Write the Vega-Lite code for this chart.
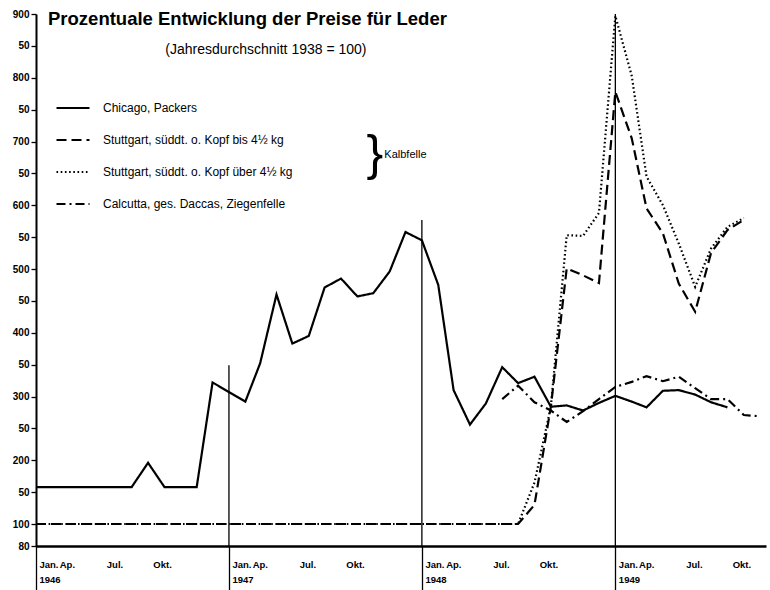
{
  "$schema": "https://vega.github.io/schema/vega-lite/v6.json",
  "autosize": {"type": "none"},
  "width": 730,
  "height": 532,
  "padding": {"left": 36, "top": 14, "right": 4, "bottom": 44},
  "background": "white",
  "config": {"view": {"stroke": null}, "font": "Liberation Sans"},
  "title": {
    "text": "Prozentuale Entwicklung der Preise für Leder",
    "anchor": "start", "frame": "group", "offset": 0, "dx": 12, "dy": 34,
    "baseline": "alphabetic", "fontSize": 18.5, "fontWeight": "bold",
    "font": "Liberation Sans", "color": "black"
  },
  "datasets": {
    "prices": [
      {"date": "1946-01-01", "series": "Chicago, Packers", "value": 158},
      {"date": "1946-02-01", "series": "Chicago, Packers", "value": 158},
      {"date": "1946-03-01", "series": "Chicago, Packers", "value": 158},
      {"date": "1946-04-01", "series": "Chicago, Packers", "value": 158},
      {"date": "1946-05-01", "series": "Chicago, Packers", "value": 158},
      {"date": "1946-06-01", "series": "Chicago, Packers", "value": 158},
      {"date": "1946-07-01", "series": "Chicago, Packers", "value": 158},
      {"date": "1946-08-01", "series": "Chicago, Packers", "value": 196},
      {"date": "1946-09-01", "series": "Chicago, Packers", "value": 158},
      {"date": "1946-10-01", "series": "Chicago, Packers", "value": 158},
      {"date": "1946-11-01", "series": "Chicago, Packers", "value": 158},
      {"date": "1946-12-01", "series": "Chicago, Packers", "value": 322},
      {"date": "1947-01-01", "series": "Chicago, Packers", "value": 307},
      {"date": "1947-02-01", "series": "Chicago, Packers", "value": 292},
      {"date": "1947-03-01", "series": "Chicago, Packers", "value": 352},
      {"date": "1947-04-01", "series": "Chicago, Packers", "value": 460},
      {"date": "1947-05-01", "series": "Chicago, Packers", "value": 383},
      {"date": "1947-06-01", "series": "Chicago, Packers", "value": 395},
      {"date": "1947-07-01", "series": "Chicago, Packers", "value": 471},
      {"date": "1947-08-01", "series": "Chicago, Packers", "value": 485},
      {"date": "1947-09-01", "series": "Chicago, Packers", "value": 457},
      {"date": "1947-10-01", "series": "Chicago, Packers", "value": 462},
      {"date": "1947-11-01", "series": "Chicago, Packers", "value": 496},
      {"date": "1947-12-01", "series": "Chicago, Packers", "value": 558},
      {"date": "1948-01-01", "series": "Chicago, Packers", "value": 545},
      {"date": "1948-02-01", "series": "Chicago, Packers", "value": 475},
      {"date": "1948-03-01", "series": "Chicago, Packers", "value": 310},
      {"date": "1948-04-01", "series": "Chicago, Packers", "value": 256},
      {"date": "1948-05-01", "series": "Chicago, Packers", "value": 289},
      {"date": "1948-06-01", "series": "Chicago, Packers", "value": 346},
      {"date": "1948-07-01", "series": "Chicago, Packers", "value": 321},
      {"date": "1948-08-01", "series": "Chicago, Packers", "value": 331},
      {"date": "1948-09-01", "series": "Chicago, Packers", "value": 284},
      {"date": "1948-10-01", "series": "Chicago, Packers", "value": 286},
      {"date": "1948-11-01", "series": "Chicago, Packers", "value": 278},
      {"date": "1948-12-01", "series": "Chicago, Packers", "value": 290},
      {"date": "1949-01-01", "series": "Chicago, Packers", "value": 301},
      {"date": "1949-02-01", "series": "Chicago, Packers", "value": 292},
      {"date": "1949-03-01", "series": "Chicago, Packers", "value": 283},
      {"date": "1949-04-01", "series": "Chicago, Packers", "value": 309},
      {"date": "1949-05-01", "series": "Chicago, Packers", "value": 310},
      {"date": "1949-06-01", "series": "Chicago, Packers", "value": 303},
      {"date": "1949-07-01", "series": "Chicago, Packers", "value": 291},
      {"date": "1949-08-01", "series": "Chicago, Packers", "value": 283},

      {"date": "1946-01-01", "series": "Stuttgart, süddt. o. Kopf bis 4½ kg", "value": 100},
      {"date": "1946-02-01", "series": "Stuttgart, süddt. o. Kopf bis 4½ kg", "value": 100},
      {"date": "1946-03-01", "series": "Stuttgart, süddt. o. Kopf bis 4½ kg", "value": 100},
      {"date": "1946-04-01", "series": "Stuttgart, süddt. o. Kopf bis 4½ kg", "value": 100},
      {"date": "1946-05-01", "series": "Stuttgart, süddt. o. Kopf bis 4½ kg", "value": 100},
      {"date": "1946-06-01", "series": "Stuttgart, süddt. o. Kopf bis 4½ kg", "value": 100},
      {"date": "1946-07-01", "series": "Stuttgart, süddt. o. Kopf bis 4½ kg", "value": 100},
      {"date": "1946-08-01", "series": "Stuttgart, süddt. o. Kopf bis 4½ kg", "value": 100},
      {"date": "1946-09-01", "series": "Stuttgart, süddt. o. Kopf bis 4½ kg", "value": 100},
      {"date": "1946-10-01", "series": "Stuttgart, süddt. o. Kopf bis 4½ kg", "value": 100},
      {"date": "1946-11-01", "series": "Stuttgart, süddt. o. Kopf bis 4½ kg", "value": 100},
      {"date": "1946-12-01", "series": "Stuttgart, süddt. o. Kopf bis 4½ kg", "value": 100},
      {"date": "1947-01-01", "series": "Stuttgart, süddt. o. Kopf bis 4½ kg", "value": 100},
      {"date": "1947-02-01", "series": "Stuttgart, süddt. o. Kopf bis 4½ kg", "value": 100},
      {"date": "1947-03-01", "series": "Stuttgart, süddt. o. Kopf bis 4½ kg", "value": 100},
      {"date": "1947-04-01", "series": "Stuttgart, süddt. o. Kopf bis 4½ kg", "value": 100},
      {"date": "1947-05-01", "series": "Stuttgart, süddt. o. Kopf bis 4½ kg", "value": 100},
      {"date": "1947-06-01", "series": "Stuttgart, süddt. o. Kopf bis 4½ kg", "value": 100},
      {"date": "1947-07-01", "series": "Stuttgart, süddt. o. Kopf bis 4½ kg", "value": 100},
      {"date": "1947-08-01", "series": "Stuttgart, süddt. o. Kopf bis 4½ kg", "value": 100},
      {"date": "1947-09-01", "series": "Stuttgart, süddt. o. Kopf bis 4½ kg", "value": 100},
      {"date": "1947-10-01", "series": "Stuttgart, süddt. o. Kopf bis 4½ kg", "value": 100},
      {"date": "1947-11-01", "series": "Stuttgart, süddt. o. Kopf bis 4½ kg", "value": 100},
      {"date": "1947-12-01", "series": "Stuttgart, süddt. o. Kopf bis 4½ kg", "value": 100},
      {"date": "1948-01-01", "series": "Stuttgart, süddt. o. Kopf bis 4½ kg", "value": 100},
      {"date": "1948-02-01", "series": "Stuttgart, süddt. o. Kopf bis 4½ kg", "value": 100},
      {"date": "1948-03-01", "series": "Stuttgart, süddt. o. Kopf bis 4½ kg", "value": 100},
      {"date": "1948-04-01", "series": "Stuttgart, süddt. o. Kopf bis 4½ kg", "value": 100},
      {"date": "1948-05-01", "series": "Stuttgart, süddt. o. Kopf bis 4½ kg", "value": 100},
      {"date": "1948-06-01", "series": "Stuttgart, süddt. o. Kopf bis 4½ kg", "value": 100},
      {"date": "1948-07-01", "series": "Stuttgart, süddt. o. Kopf bis 4½ kg", "value": 100},
      {"date": "1948-08-01", "series": "Stuttgart, süddt. o. Kopf bis 4½ kg", "value": 130},
      {"date": "1948-09-01", "series": "Stuttgart, süddt. o. Kopf bis 4½ kg", "value": 284},
      {"date": "1948-10-01", "series": "Stuttgart, süddt. o. Kopf bis 4½ kg", "value": 501},
      {"date": "1948-11-01", "series": "Stuttgart, süddt. o. Kopf bis 4½ kg", "value": 490},
      {"date": "1948-12-01", "series": "Stuttgart, süddt. o. Kopf bis 4½ kg", "value": 478},
      {"date": "1949-01-01", "series": "Stuttgart, süddt. o. Kopf bis 4½ kg", "value": 778},
      {"date": "1949-02-01", "series": "Stuttgart, süddt. o. Kopf bis 4½ kg", "value": 705},
      {"date": "1949-03-01", "series": "Stuttgart, süddt. o. Kopf bis 4½ kg", "value": 595},
      {"date": "1949-04-01", "series": "Stuttgart, süddt. o. Kopf bis 4½ kg", "value": 556},
      {"date": "1949-05-01", "series": "Stuttgart, süddt. o. Kopf bis 4½ kg", "value": 477},
      {"date": "1949-06-01", "series": "Stuttgart, süddt. o. Kopf bis 4½ kg", "value": 433},
      {"date": "1949-07-01", "series": "Stuttgart, süddt. o. Kopf bis 4½ kg", "value": 525},
      {"date": "1949-08-01", "series": "Stuttgart, süddt. o. Kopf bis 4½ kg", "value": 561},
      {"date": "1949-09-01", "series": "Stuttgart, süddt. o. Kopf bis 4½ kg", "value": 577},

      {"date": "1946-01-01", "series": "Stuttgart, süddt. o. Kopf über 4½ kg", "value": 100},
      {"date": "1946-02-01", "series": "Stuttgart, süddt. o. Kopf über 4½ kg", "value": 100},
      {"date": "1946-03-01", "series": "Stuttgart, süddt. o. Kopf über 4½ kg", "value": 100},
      {"date": "1946-04-01", "series": "Stuttgart, süddt. o. Kopf über 4½ kg", "value": 100},
      {"date": "1946-05-01", "series": "Stuttgart, süddt. o. Kopf über 4½ kg", "value": 100},
      {"date": "1946-06-01", "series": "Stuttgart, süddt. o. Kopf über 4½ kg", "value": 100},
      {"date": "1946-07-01", "series": "Stuttgart, süddt. o. Kopf über 4½ kg", "value": 100},
      {"date": "1946-08-01", "series": "Stuttgart, süddt. o. Kopf über 4½ kg", "value": 100},
      {"date": "1946-09-01", "series": "Stuttgart, süddt. o. Kopf über 4½ kg", "value": 100},
      {"date": "1946-10-01", "series": "Stuttgart, süddt. o. Kopf über 4½ kg", "value": 100},
      {"date": "1946-11-01", "series": "Stuttgart, süddt. o. Kopf über 4½ kg", "value": 100},
      {"date": "1946-12-01", "series": "Stuttgart, süddt. o. Kopf über 4½ kg", "value": 100},
      {"date": "1947-01-01", "series": "Stuttgart, süddt. o. Kopf über 4½ kg", "value": 100},
      {"date": "1947-02-01", "series": "Stuttgart, süddt. o. Kopf über 4½ kg", "value": 100},
      {"date": "1947-03-01", "series": "Stuttgart, süddt. o. Kopf über 4½ kg", "value": 100},
      {"date": "1947-04-01", "series": "Stuttgart, süddt. o. Kopf über 4½ kg", "value": 100},
      {"date": "1947-05-01", "series": "Stuttgart, süddt. o. Kopf über 4½ kg", "value": 100},
      {"date": "1947-06-01", "series": "Stuttgart, süddt. o. Kopf über 4½ kg", "value": 100},
      {"date": "1947-07-01", "series": "Stuttgart, süddt. o. Kopf über 4½ kg", "value": 100},
      {"date": "1947-08-01", "series": "Stuttgart, süddt. o. Kopf über 4½ kg", "value": 100},
      {"date": "1947-09-01", "series": "Stuttgart, süddt. o. Kopf über 4½ kg", "value": 100},
      {"date": "1947-10-01", "series": "Stuttgart, süddt. o. Kopf über 4½ kg", "value": 100},
      {"date": "1947-11-01", "series": "Stuttgart, süddt. o. Kopf über 4½ kg", "value": 100},
      {"date": "1947-12-01", "series": "Stuttgart, süddt. o. Kopf über 4½ kg", "value": 100},
      {"date": "1948-01-01", "series": "Stuttgart, süddt. o. Kopf über 4½ kg", "value": 100},
      {"date": "1948-02-01", "series": "Stuttgart, süddt. o. Kopf über 4½ kg", "value": 100},
      {"date": "1948-03-01", "series": "Stuttgart, süddt. o. Kopf über 4½ kg", "value": 100},
      {"date": "1948-04-01", "series": "Stuttgart, süddt. o. Kopf über 4½ kg", "value": 100},
      {"date": "1948-05-01", "series": "Stuttgart, süddt. o. Kopf über 4½ kg", "value": 100},
      {"date": "1948-06-01", "series": "Stuttgart, süddt. o. Kopf über 4½ kg", "value": 100},
      {"date": "1948-07-01", "series": "Stuttgart, süddt. o. Kopf über 4½ kg", "value": 100},
      {"date": "1948-08-01", "series": "Stuttgart, süddt. o. Kopf über 4½ kg", "value": 165},
      {"date": "1948-09-01", "series": "Stuttgart, süddt. o. Kopf über 4½ kg", "value": 284},
      {"date": "1948-10-01", "series": "Stuttgart, süddt. o. Kopf über 4½ kg", "value": 553},
      {"date": "1948-11-01", "series": "Stuttgart, süddt. o. Kopf über 4½ kg", "value": 552},
      {"date": "1948-12-01", "series": "Stuttgart, süddt. o. Kopf über 4½ kg", "value": 588},
      {"date": "1949-01-01", "series": "Stuttgart, süddt. o. Kopf über 4½ kg", "value": 897},
      {"date": "1949-02-01", "series": "Stuttgart, süddt. o. Kopf über 4½ kg", "value": 803},
      {"date": "1949-03-01", "series": "Stuttgart, süddt. o. Kopf über 4½ kg", "value": 645},
      {"date": "1949-04-01", "series": "Stuttgart, süddt. o. Kopf über 4½ kg", "value": 600},
      {"date": "1949-05-01", "series": "Stuttgart, süddt. o. Kopf über 4½ kg", "value": 540},
      {"date": "1949-06-01", "series": "Stuttgart, süddt. o. Kopf über 4½ kg", "value": 472},
      {"date": "1949-07-01", "series": "Stuttgart, süddt. o. Kopf über 4½ kg", "value": 532},
      {"date": "1949-08-01", "series": "Stuttgart, süddt. o. Kopf über 4½ kg", "value": 566},
      {"date": "1949-09-01", "series": "Stuttgart, süddt. o. Kopf über 4½ kg", "value": 580},

      {"date": "1948-06-01", "series": "Calcutta, ges. Daccas, Ziegenfelle", "value": 296},
      {"date": "1948-07-01", "series": "Calcutta, ges. Daccas, Ziegenfelle", "value": 317},
      {"date": "1948-08-01", "series": "Calcutta, ges. Daccas, Ziegenfelle", "value": 291},
      {"date": "1948-09-01", "series": "Calcutta, ges. Daccas, Ziegenfelle", "value": 278},
      {"date": "1948-10-01", "series": "Calcutta, ges. Daccas, Ziegenfelle", "value": 260},
      {"date": "1948-11-01", "series": "Calcutta, ges. Daccas, Ziegenfelle", "value": 277},
      {"date": "1948-12-01", "series": "Calcutta, ges. Daccas, Ziegenfelle", "value": 296},
      {"date": "1949-01-01", "series": "Calcutta, ges. Daccas, Ziegenfelle", "value": 315},
      {"date": "1949-02-01", "series": "Calcutta, ges. Daccas, Ziegenfelle", "value": 323},
      {"date": "1949-03-01", "series": "Calcutta, ges. Daccas, Ziegenfelle", "value": 332},
      {"date": "1949-04-01", "series": "Calcutta, ges. Daccas, Ziegenfelle", "value": 324},
      {"date": "1949-05-01", "series": "Calcutta, ges. Daccas, Ziegenfelle", "value": 331},
      {"date": "1949-06-01", "series": "Calcutta, ges. Daccas, Ziegenfelle", "value": 313},
      {"date": "1949-07-01", "series": "Calcutta, ges. Daccas, Ziegenfelle", "value": 296},
      {"date": "1949-08-01", "series": "Calcutta, ges. Daccas, Ziegenfelle", "value": 296},
      {"date": "1949-09-01", "series": "Calcutta, ges. Daccas, Ziegenfelle", "value": 271},
      {"date": "1949-10-01", "series": "Calcutta, ges. Daccas, Ziegenfelle", "value": 269}
    ],
    "years": [
      {"date": "1947-01-01", "value": 349},
      {"date": "1948-01-01", "value": 577},
      {"date": "1949-01-01", "value": 900}
    ]
  },
  "encoding": {
    "x": {"field": "date", "type": "temporal",
      "scale": {"type": "utc", "domain": [{"year": 1946, "month": 1, "date": 1, "utc": true}, {"year": 1949, "month": 10, "date": 13, "utc": true}]},
      "axis": {
        "title": null, "grid": false,
        "values": [
          {"year": 1946, "month": 1, "date": 1, "utc": true}, {"year": 1946, "month": 4, "date": 1, "utc": true}, {"year": 1946, "month": 7, "date": 1, "utc": true}, {"year": 1946, "month": 10, "date": 1, "utc": true},
          {"year": 1947, "month": 1, "date": 1, "utc": true}, {"year": 1947, "month": 4, "date": 1, "utc": true}, {"year": 1947, "month": 7, "date": 1, "utc": true}, {"year": 1947, "month": 10, "date": 1, "utc": true},
          {"year": 1948, "month": 1, "date": 1, "utc": true}, {"year": 1948, "month": 4, "date": 1, "utc": true}, {"year": 1948, "month": 7, "date": 1, "utc": true}, {"year": 1948, "month": 10, "date": 1, "utc": true},
          {"year": 1949, "month": 1, "date": 1, "utc": true}, {"year": 1949, "month": 4, "date": 1, "utc": true}, {"year": 1949, "month": 7, "date": 1, "utc": true}, {"year": 1949, "month": 10, "date": 1, "utc": true}
        ],
        "labelExpr": "utcmonth(datum.value) == 0 ? ['Jan.', utcFormat(datum.value, '%Y')] : (utcmonth(datum.value) == 3 ? 'Ap.' : (utcmonth(datum.value) == 6 ? 'Jul.' : 'Okt.'))",
        "labelAlign": {"condition": {"test": "utcmonth(datum.value) == 0", "value": "left"}, "value": "right"},
        "labelOffset": {"condition": {"test": "utcmonth(datum.value) == 0", "value": 3}, "value": -9},
        "labelBaseline": "top", "labelPadding": -31, "labelLineHeight": 15,
        "labelFontSize": 9.5, "labelFontWeight": "bold", "labelColor": "black",
        "labelOverlap": false, "labelFlush": false, "labelBound": false,
        "tickSize": 44, "tickWidth": 1.3,
        "tickColor": {"condition": {"test": "utcmonth(datum.value) == 0", "value": "black"}, "value": "transparent"},
        "domainColor": "black", "domainWidth": 2.5
      }
    },
    "y": {"field": "value", "type": "quantitative",
      "scale": {"domain": [65.5, 900], "nice": false, "zero": false},
      "axis": {
        "title": null, "grid": false,
        "values": [65.5, 100, 150, 200, 250, 300, 350, 400, 450, 500, 550, 600, 650, 700, 750, 800, 850, 900],
        "labelExpr": "datum.value < 90 ? '80' : (datum.value % 100 == 0 ? format(datum.value, 'd') : '50')",
        "labelFontSize": 10, "labelFontWeight": "bold", "labelColor": "black",
        "labelOverlap": false, "labelFlush": false, "labelPadding": 2,
        "tickSize": 5, "tickColor": "black", "tickWidth": 1.3,
        "domainColor": "black", "domainWidth": 2
      }
    }
  },
  "layer": [
    {
      "data": {"name": "years"},
      "mark": {"type": "rule", "color": "black", "strokeWidth": 1.3},
      "encoding": {
        "y2": {"datum": 65.5}
      }
    },
    {
      "data": {"name": "prices"},
      "mark": {"type": "line", "color": "black", "strokeWidth": 2.2, "strokeCap": "butt"},
      "encoding": {
        "strokeDash": {
          "field": "series", "type": "nominal",
          "scale": {
            "domain": ["Chicago, Packers", "Stuttgart, süddt. o. Kopf bis 4½ kg", "Stuttgart, süddt. o. Kopf über 4½ kg", "Calcutta, ges. Daccas, Ziegenfelle"],
            "range": [[1, 0], [10, 5], [1.6, 2.6], [9, 4, 2, 4]]
          },
          "legend": {
            "orient": "none", "legendX": 19, "legendY": 76, "title": null, "padding": 0,
            "symbolType": "stroke", "symbolSize": 1089, "symbolStrokeWidth": 2.2, "symbolStrokeColor": "black",
            "labelFontSize": 12, "labelColor": "black", "labelOffset": 12, "rowPadding": 8, "labelLimit": 400
          }
        }
      }
    },
    {
      "data": {"values": [{"date": "1947-03-12", "value": 843, "text": "(Jahresdurchschnitt 1938 = 100)"}]},
      "mark": {"type": "text", "fontSize": 14, "color": "black", "align": "center", "baseline": "middle"},
      "encoding": {"text": {"field": "text"}}
    },
    {
      "data": {"values": [{"date": "1947-10-04", "value": 679, "text": "}"}]},
      "mark": {"type": "text", "fontSize": 50, "color": "black", "align": "center", "baseline": "middle"},
      "encoding": {"text": {"field": "text"}}
    },
    {
      "data": {"values": [{"date": "1947-10-22", "value": 679, "text": "Kalbfelle"}]},
      "mark": {"type": "text", "fontSize": 11, "color": "black", "align": "left", "baseline": "middle"},
      "encoding": {"text": {"field": "text"}}
    }
  ]
}
